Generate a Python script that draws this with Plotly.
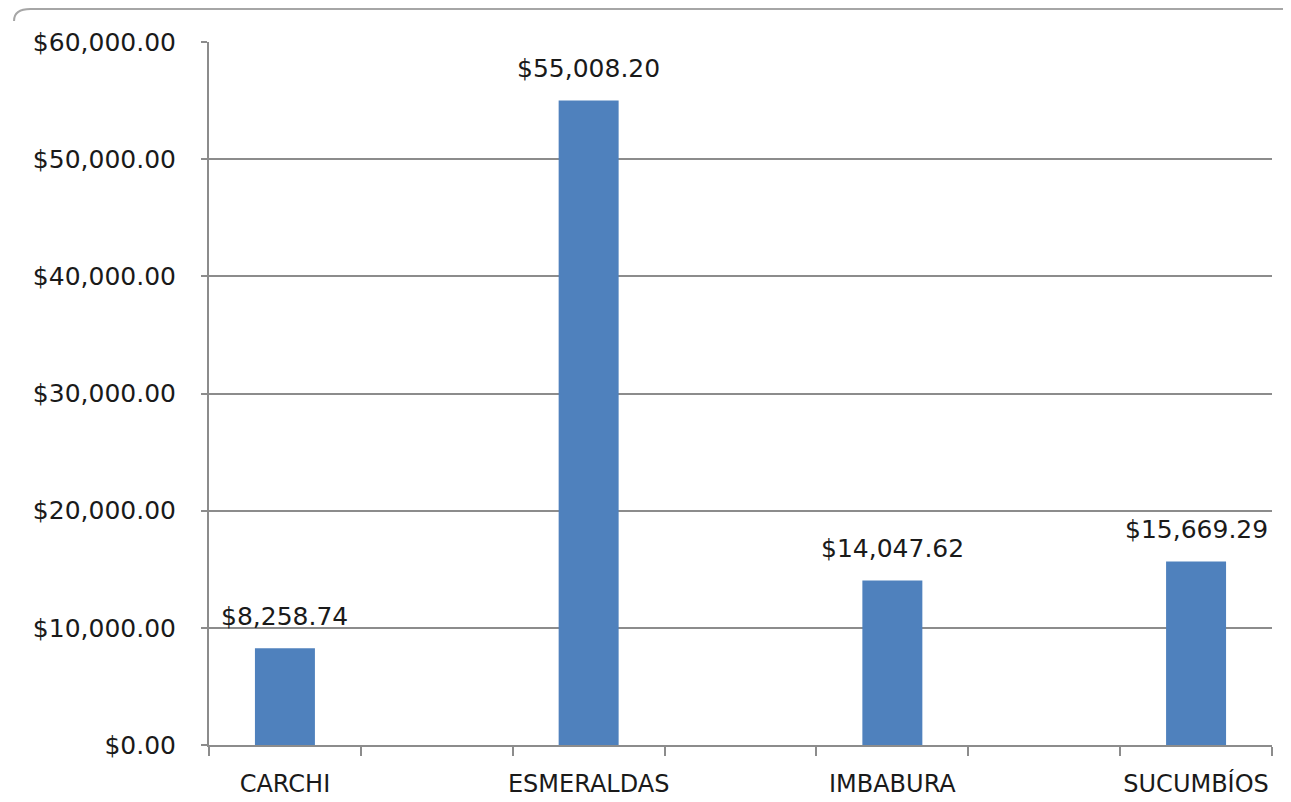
import plotly.graph_objects as go

# Data
categories = ["CARCHI", "ESMERALDAS", "IMBABURA", "SUCUMBÍOS"]
values = [8258.74, 55008.20, 14047.62, 15669.29]
y_ticks = [0, 10000, 20000, 30000, 40000, 50000, 60000]

# The source chart has empty category slots between the provinces
slot_step = 2
positions = [i * slot_step for i in range(len(categories))]
n_slots = slot_step * (len(categories) - 1) + 1
boundaries = [k - 0.5 for k in range(n_slots + 1)]

FONT = "DejaVu Sans"
GRID = "#8c8c8c"
BAR = "#4F81BD"
TXT = "#1a1a1a"

fig = go.Figure()
fig.add_trace(go.Bar(
    x=positions, y=values, width=0.395,
    marker=dict(color=BAR, line=dict(width=0)),
    hoverinfo="skip",
))

for xp, v in zip(positions, values):
    fig.add_annotation(
        x=xp, y=v, text=f"${v:,.2f}", showarrow=False,
        yanchor="bottom", yshift=15,
        font=dict(family=FONT, size=25, color=TXT),
    )

# page body adds an 8px offset; figure sized so plot area lands like the source
fig.update_layout(
    width=1283, height=794,
    margin=dict(l=201, r=19, t=34, b=57, autoexpand=False),
    paper_bgcolor="white", plot_bgcolor="white",
    showlegend=False,
    font=dict(family=FONT, size=25, color=TXT),
)

fig.update_xaxes(
    range=[boundaries[0], boundaries[-1]],
    tickmode="array", tickvals=positions, ticktext=categories,
    ticks="", ticklabelstandoff=16, automargin=False,
    tickfont=dict(family=FONT, size=24, color=TXT),
    showgrid=False, zeroline=False,
    showline=True, linecolor=GRID, linewidth=2,
    minor=dict(tickmode="array", tickvals=boundaries, ticks="outside",
               ticklen=9, tickcolor=GRID, tickwidth=2, showgrid=False),
    fixedrange=True,
)
fig.update_yaxes(
    range=[0, 60000], tickmode="array", tickvals=y_ticks,
    tickformat="$,.2f", automargin=False,
    ticks="outside", ticklen=6, tickcolor=GRID, tickwidth=2,
    ticklabelstandoff=20,
    tickfont=dict(family=FONT, size=25, color=TXT),
    showgrid=True, gridcolor=GRID, gridwidth=2,
    zeroline=False, showline=True, linecolor=GRID, linewidth=2,
    fixedrange=True,
)

# Chart-area border (top edge with rounded corner, as in the source)
fig.add_shape(type="path", xref="paper", yref="paper",
              path="M -0.1834,1.030 Q -0.1834,1.0468 -0.168,1.0468 L 1.02,1.0468",
              line=dict(color="#a6a6a6", width=2))

fig.write_html("out.html")
